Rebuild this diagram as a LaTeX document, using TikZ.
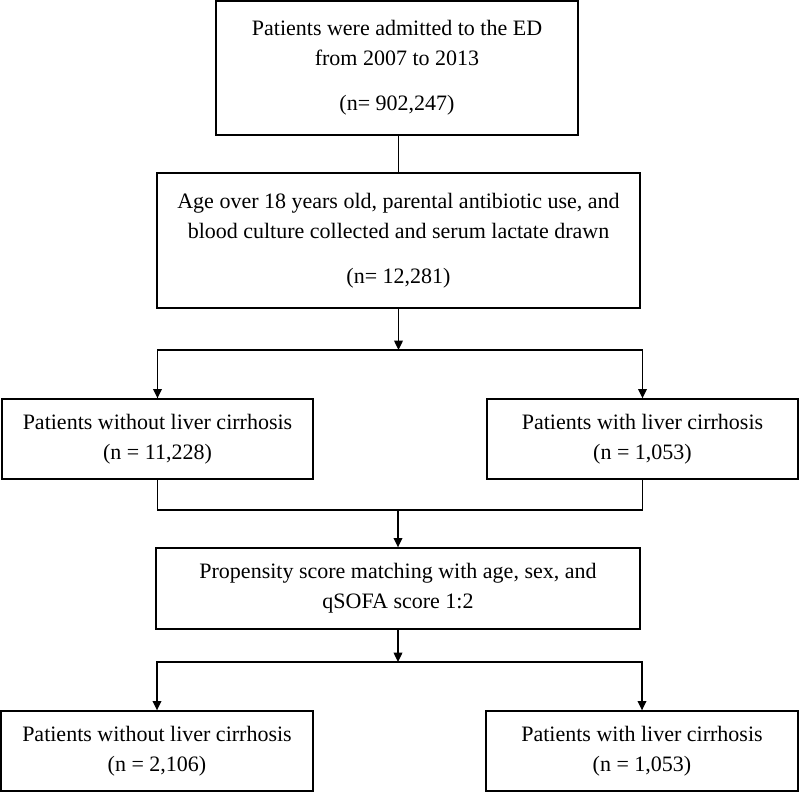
\documentclass[tikz,border=0pt]{standalone}
\usepackage{fontspec}
\setmainfont{Liberation Serif}
\usetikzlibrary{arrows.meta}
\begin{document}
\begin{tikzpicture}[x=0.75pt,y=-0.75pt,
  box/.style={draw=black, line width=1pt, inner sep=0pt, align=center,
    font=\fontsize{16.5}{22.5}\selectfont},
  conn/.style={draw=black, line width=1pt},
  arr/.style={conn, -{Triangle[length=7pt,width=6.5pt]}}]
\useasboundingbox (0,0) rectangle (800,792);
\node[box, minimum width=271.5pt, minimum height=100.5pt] (b1) at (397,68)
  {Patients were admitted to the ED\\ from 2007 to 2013\\[11.25pt] (n= 902,247)};
\node[box, minimum width=362.25pt, minimum height=101.25pt] (b2) at (398.5,240.5)
  {Age over 18 years old, parental antibiotic use, and\\ blood culture collected and serum lactate drawn\\[11.25pt] (n= 12,281)};
\node[box, minimum width=233.25pt, minimum height=60pt] (b3) at (157.5,439)
  {Patients without liver cirrhosis\\ (n = 11,228)};
\node[box, minimum width=233.25pt, minimum height=60pt] (b4) at (642.5,439)
  {Patients with liver cirrhosis\\ (n = 1,053)};
\node[box, minimum width=363pt, minimum height=60.75pt] (b5) at (398,588.5)
  {Propensity score matching with age, sex, and\\ qSOFA score 1:2};
\node[box, minimum width=234pt, minimum height=60pt] (b6) at (157,751)
  {Patients without liver cirrhosis\\ (n = 2,106)};
\node[box, minimum width=234pt, minimum height=60pt] (b7) at (642,751)
  {Patients with liver cirrhosis\\ (n = 1,053)};
\coordinate (s1) at (398.5,350);
\coordinate (m1) at (398,510);
\coordinate (s2) at (398,662);
\draw[conn] (b1.south -| b2.north) -- (b2.north);
\draw[arr] (b2.south) -- (s1);
\draw[arr] (s1) -| (b3.north);
\draw[arr] (s1) -| (b4.north);
\draw[conn] (b3.south) |- (m1);
\draw[conn] (b4.south) |- (m1);
\draw[arr] (m1) -- (b5.north);
\draw[arr] (b5.south) -- (s2);
\draw[arr] (s2) -| (b6.north);
\draw[arr] (s2) -| (b7.north);
\end{tikzpicture}
\end{document}
